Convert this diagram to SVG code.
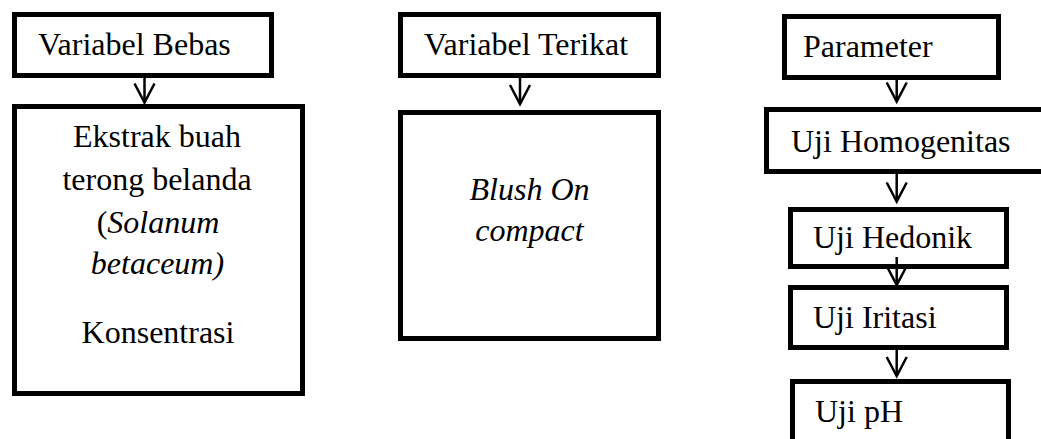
<svg xmlns="http://www.w3.org/2000/svg" width="1041" height="439" viewBox="0 0 1041 439">
<style>
.box{fill:#fff;stroke:#000;stroke-width:5}
.t{font-family:"Liberation Serif","Times New Roman",serif;font-size:32px;fill:#000}
.c{text-anchor:middle}
.i{font-style:italic}
.con{stroke:#000;stroke-width:2.5;fill:none}
</style>
<defs>
<marker id="ah" markerUnits="userSpaceOnUse" viewBox="-22 -12 24 24" refX="0" refY="0" markerWidth="24" markerHeight="24" orient="auto" overflow="visible">
<path d="M-19,-10 L0,0 L-19,10" fill="none" stroke="#000" stroke-width="2.5"/>
</marker>
</defs>
<rect width="1041" height="439" fill="#fff"/>
<g id="n-bebas"><rect class="box" x="14.5" y="14.5" width="257" height="61"/><text class="t" x="38" y="55">Variabel Bebas</text></g>
<g id="n-ekstrak"><rect class="box" x="14.5" y="106.5" width="288" height="287"/>
<text class="t c" x="157" y="147">Ekstrak buah</text>
<text class="t c" x="157" y="190">terong belanda</text>
<text class="t c" x="158" y="233">(<tspan class="i">Solanum</tspan></text>
<text class="t c i" x="157.5" y="274">betaceum)</text>
<text class="t c" x="158" y="343">Konsentrasi</text></g>
<g id="n-terikat"><rect class="box" x="400.5" y="14.5" width="258" height="61"/><text class="t" x="424" y="55">Variabel Terikat</text></g>
<g id="n-blush"><rect class="box" x="400.5" y="112.5" width="258" height="226"/>
<text class="t c i" x="529.5" y="200">Blush On</text>
<text class="t c i" x="529.5" y="241">compact</text></g>
<g id="n-parameter"><rect class="box" x="784.5" y="16.5" width="214" height="61"/><text class="t" x="803" y="57">Parameter</text></g>
<g id="n-homogenitas"><rect class="box" x="766.5" y="109.5" width="290" height="62"/><text class="t" x="791" y="152">Uji Homogenitas</text></g>
<g id="n-hedonik"><rect class="box" x="790.5" y="209.5" width="216" height="57"/><text class="t" x="813" y="248">Uji Hedonik</text></g>
<g id="n-iritasi"><rect class="box" x="790.5" y="287.5" width="216" height="60"/><text class="t" x="813" y="328">Uji Iritasi</text></g>
<g id="n-ph"><rect class="box" x="792.5" y="381.5" width="216" height="70"/><text class="t" x="815" y="422">Uji pH</text></g>
<g id="connectors">
<line class="con" x1="144.5" y1="78" x2="144.5" y2="102.5" marker-end="url(#ah)"/>
<line class="con" x1="520" y1="78" x2="520" y2="104" marker-end="url(#ah)"/>
<line class="con" x1="896.7" y1="80" x2="896.7" y2="101.5" marker-end="url(#ah)"/>
<line class="con" x1="896.7" y1="174" x2="896.7" y2="201.5" marker-end="url(#ah)"/>
<line class="con" x1="896.7" y1="257" x2="896.7" y2="285" marker-end="url(#ah)"/>
<line class="con" x1="896.7" y1="350" x2="896.7" y2="376" marker-end="url(#ah)"/>
</g>
</svg>
